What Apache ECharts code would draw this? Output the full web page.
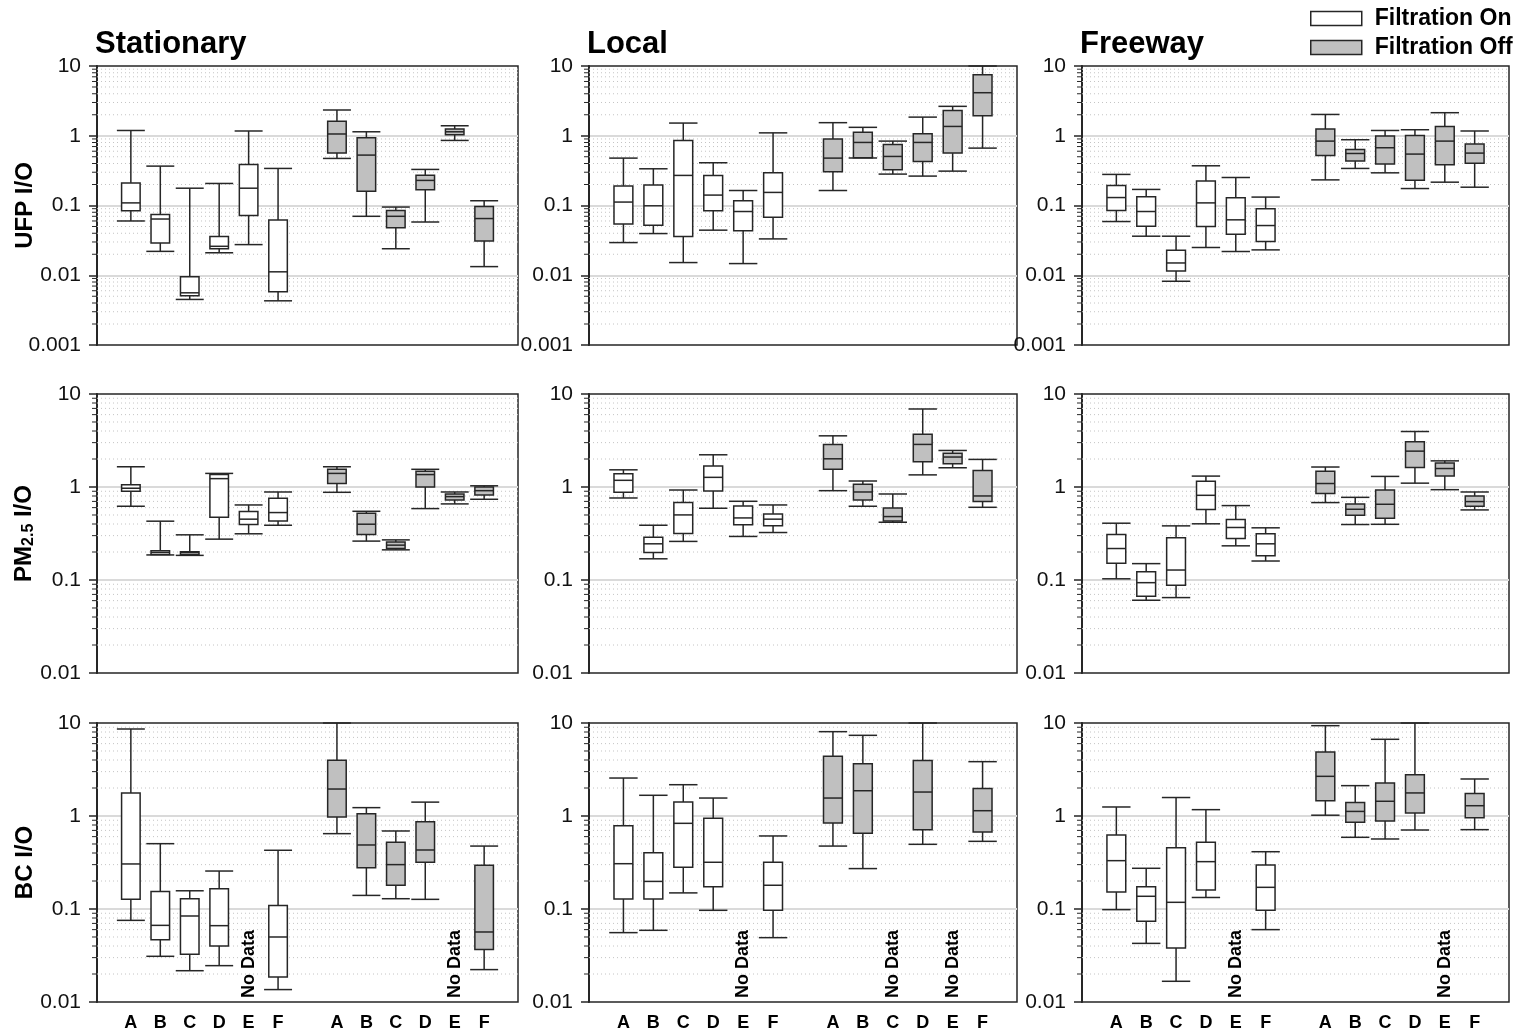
<!DOCTYPE html>
<html>
<head>
<meta charset="utf-8">
<script src="https://cdn.jsdelivr.net/npm/echarts@6/dist/echarts.min.js"></script>
<style>
  html, body { margin: 0; padding: 0; background: #fff; }
  #chart { width: 1518px; height: 1033px; }
</style>
</head>
<body>
<div id="chart"></div>
<script>
// Sites along each panel's horizontal axis (filtration on, then off)
const sites = ['A', 'B', 'C', 'D', 'E', 'F'];
const panelTitles = ['Stationary', 'Local', 'Freeway'];
const legendNames = ['Filtration On', 'Filtration Off'];
const noDataText = 'No Data';
const yTickLabels = ['0.001', '0.01', '0.1', '1', '10'];

// Each row: [min, Q1, median, Q3, max] of the I/O ratio; null = no data
// ---- UFP ----
const ufpStationaryOn = [
  [0.060, 0.084, 0.109, 0.211, 1.19],
  [0.022, 0.029, 0.064, 0.074, 0.367],
  [0.0045, 0.0051, 0.0056, 0.0095, 0.177],
  [0.021, 0.024, 0.026, 0.036, 0.207],
  [0.0275, 0.072, 0.177, 0.388, 1.17],
  [0.0043, 0.0058, 0.0112, 0.062, 0.34]
];
const ufpStationaryOff = [
  [0.473, 0.564, 1.06, 1.61, 2.34],
  [0.070, 0.160, 0.528, 0.936, 1.14],
  [0.024, 0.048, 0.070, 0.085, 0.095],
  [0.058, 0.168, 0.229, 0.272, 0.329],
  [0.857, 1.03, 1.14, 1.25, 1.39],
  [0.0133, 0.031, 0.065, 0.097, 0.117]
];
const ufpLocalOn = [
  [0.0294, 0.0545, 0.112, 0.191, 0.478],
  [0.0396, 0.0522, 0.099, 0.196, 0.336],
  [0.0152, 0.0359, 0.27, 0.857, 1.52],
  [0.0443, 0.0838, 0.141, 0.27, 0.41],
  [0.0147, 0.0433, 0.082, 0.117, 0.164],
  [0.0332, 0.068, 0.154, 0.294, 1.10]
];
const ufpLocalOff = [
  [0.164, 0.304, 0.478, 0.896, 1.54],
  [0.48, 0.483, 0.802, 1.12, 1.32],
  [0.282, 0.325, 0.505, 0.75, 0.838],
  [0.264, 0.428, 0.802, 1.07, 1.85],
  [0.311, 0.564, 1.36, 2.31, 2.64],
  [0.665, 1.94, 4.14, 7.51, 10]
];
const ufpFreewayOn = [
  [0.0589, 0.0848, 0.130, 0.194, 0.279],
  [0.0363, 0.0505, 0.082, 0.133, 0.170],
  [0.0082, 0.0115, 0.015, 0.0229, 0.0363],
  [0.025, 0.050, 0.109, 0.224, 0.371],
  [0.0219, 0.0388, 0.0623, 0.129, 0.252],
  [0.0231, 0.0304, 0.0516, 0.0896, 0.132]
];
const ufpFreewayOff = [
  [0.233, 0.522, 0.838, 1.25, 2.02],
  [0.34, 0.433, 0.557, 0.637, 0.877],
  [0.294, 0.392, 0.673, 0.989, 1.19],
  [0.175, 0.231, 0.546, 1.01, 1.22],
  [0.216, 0.384, 0.838, 1.36, 2.14],
  [0.183, 0.405, 0.564, 0.759, 1.17]
];
// ---- PM2.5 ----
const pmStationaryOn = [
  [0.621, 0.90, 0.97, 1.06, 1.65],
  [0.186, 0.188, 0.198, 0.206, 0.429],
  [0.184, 0.188, 0.197, 0.201, 0.306],
  [0.275, 0.473, 1.23, 1.36, 1.40],
  [0.314, 0.395, 0.451, 0.544, 0.641],
  [0.388, 0.432, 0.531, 0.756, 0.884]
];
const pmStationaryOff = [
  [0.877, 1.09, 1.40, 1.55, 1.65],
  [0.262, 0.308, 0.398, 0.522, 0.548],
  [0.211, 0.218, 0.237, 0.257, 0.27],
  [0.586, 1.0, 1.36, 1.48, 1.55],
  [0.658, 0.726, 0.788, 0.841, 0.884],
  [0.738, 0.82, 0.913, 1.0, 1.03]
];
const pmLocalOn = [
  [0.762, 0.877, 1.18, 1.39, 1.53],
  [0.169, 0.198, 0.245, 0.289, 0.388],
  [0.26, 0.316, 0.501, 0.68, 0.928],
  [0.591, 0.906, 1.27, 1.68, 2.22],
  [0.294, 0.392, 0.465, 0.626, 0.702],
  [0.324, 0.382, 0.451, 0.514, 0.641]
];
const pmLocalOff = [
  [0.913, 1.55, 2.01, 2.87, 3.55],
  [0.621, 0.726, 0.884, 1.07, 1.16],
  [0.418, 0.432, 0.481, 0.596, 0.841],
  [1.35, 1.87, 2.87, 3.7, 6.9],
  [1.61, 1.78, 2.10, 2.31, 2.47],
  [0.605, 0.697, 0.801, 1.50, 1.98]
];
const pmFreewayOn = [
  [0.103, 0.151, 0.218, 0.308, 0.408],
  [0.0606, 0.0668, 0.0936, 0.123, 0.15],
  [0.0647, 0.0877, 0.128, 0.284, 0.382],
  [0.402, 0.572, 0.814, 1.15, 1.31],
  [0.233, 0.279, 0.367, 0.447, 0.631],
  [0.16, 0.182, 0.245, 0.314, 0.364]
];
const pmFreewayOff = [
  [0.68, 0.849, 1.09, 1.48, 1.64],
  [0.395, 0.497, 0.576, 0.658, 0.774],
  [0.397, 0.462, 0.652, 0.928, 1.30],
  [1.10, 1.62, 2.43, 3.06, 3.95],
  [0.936, 1.31, 1.58, 1.81, 1.91],
  [0.567, 0.621, 0.697, 0.801, 0.884]
];
// ---- BC ----
const bcStationaryOn = [
  [0.0755, 0.127, 0.305, 1.77, 8.62],
  [0.031, 0.0468, 0.0667, 0.154, 0.504],
  [0.0217, 0.0326, 0.0841, 0.129, 0.157],
  [0.0246, 0.040, 0.0662, 0.165, 0.256],
  null,
  [0.0136, 0.0186, 0.050, 0.109, 0.428]
];
const bcStationaryOff = [
  [0.646, 0.975, 1.95, 3.97, 10],
  [0.14, 0.278, 0.488, 1.06, 1.23],
  [0.129, 0.18, 0.30, 0.521, 0.69],
  [0.127, 0.318, 0.431, 0.869, 1.41],
  null,
  [0.0223, 0.0368, 0.0566, 0.295, 0.475]
];
const bcLocalOn = [
  [0.0557, 0.128, 0.307, 0.787, 2.56],
  [0.059, 0.128, 0.198, 0.403, 1.67],
  [0.149, 0.281, 0.834, 1.41, 2.17],
  [0.0968, 0.174, 0.318, 0.944, 1.56],
  null,
  [0.0492, 0.0968, 0.18, 0.318, 0.61]
];
const bcLocalOff = [
  [0.475, 0.841, 1.56, 4.38, 8.07],
  [0.272, 0.651, 1.87, 3.65, 7.37],
  null,
  [0.496, 0.713, 1.81, 3.94, 10],
  null,
  [0.534, 0.673, 1.14, 1.97, 3.84]
];
const bcFreewayOn = [
  [0.0984, 0.152, 0.331, 0.625, 1.25],
  [0.0427, 0.0737, 0.137, 0.174, 0.274],
  [0.0167, 0.0381, 0.118, 0.456, 1.58],
  [0.133, 0.16, 0.323, 0.521, 1.17],
  null,
  [0.06, 0.0968, 0.171, 0.297, 0.413]
];
const bcFreewayOff = [
  [1.02, 1.46, 2.67, 4.88, 9.36],
  [0.59, 0.855, 1.12, 1.40, 2.12],
  [0.566, 0.884, 1.44, 2.26, 6.68],
  [0.707, 1.08, 1.77, 2.78, 10],
  null,
  [0.713, 0.96, 1.29, 1.75, 2.50]
];

// Layout of the 3 x 3 panel grid (pixels)
const colLeft = [97, 589, 1082];
const colWidth = [421, 428, 427];
const rowTop = [66, 394, 723];
const rowHeight = 279;
const rowYMin = [0.001, 0.01, 0.01];
const OFF_OFFSET = 7;           // "off" boxes start after a one-slot gap
const X_MIN = -1.15, X_MAX = 13.15;

const FONT = "'Liberation Sans', Arial, Helvetica, sans-serif";
const INK = '#262626';
const OFF_FILL = '#c0c0c0';

const rows = [
  { name: 'UFP I/O', data: [[ufpStationaryOn, ufpStationaryOff], [ufpLocalOn, ufpLocalOff], [ufpFreewayOn, ufpFreewayOff]] },
  { name: '{m|PM}{s|2.5}{m| I/O}', data: [[pmStationaryOn, pmStationaryOff], [pmLocalOn, pmLocalOff], [pmFreewayOn, pmFreewayOff]] },
  { name: 'BC I/O', data: [[bcStationaryOn, bcStationaryOff], [bcLocalOn, bcLocalOff], [bcFreewayOn, bcFreewayOff]] }
];

function toBoxItems(arr, offset) {
  const out = [];
  arr.forEach((d, i) => { if (d) out.push([i + offset].concat(d)); });
  return out;
}
function toNoDataItems(arr, offset, yMin) {
  const out = [];
  arr.forEach((d, i) => { if (!d) out.push([i + offset, yMin]); });
  return out;
}

function boxRenderer(fill) {
  return function (params, api) {
    const x = api.value(0);
    const lo = api.coord([x, api.value(1)]);
    const q1 = api.coord([x, api.value(2)]);
    const md = api.coord([x, api.value(3)]);
    const q3 = api.coord([x, api.value(4)]);
    const hi = api.coord([x, api.value(5)]);
    const slot = api.coord([x + 1, api.value(3)])[0] - md[0];
    const bw = slot * 0.63;
    const cw = slot * 0.95;
    const cx = md[0];
    const line = { stroke: INK, lineWidth: 1.5 };
    return {
      type: 'group',
      children: [
        { type: 'line', shape: { x1: cx, y1: hi[1], x2: cx, y2: q3[1] }, style: line },
        { type: 'line', shape: { x1: cx, y1: q1[1], x2: cx, y2: lo[1] }, style: line },
        { type: 'line', shape: { x1: cx - cw / 2, y1: hi[1], x2: cx + cw / 2, y2: hi[1] }, style: line },
        { type: 'line', shape: { x1: cx - cw / 2, y1: lo[1], x2: cx + cw / 2, y2: lo[1] }, style: line },
        { type: 'rect', shape: { x: cx - bw / 2, y: q3[1], width: bw, height: q1[1] - q3[1] },
          style: { fill: fill, stroke: INK, lineWidth: 1.5 } },
        { type: 'line', shape: { x1: cx - bw / 2, y1: md[1], x2: cx + bw / 2, y2: md[1] }, style: line }
      ]
    };
  };
}

// Dotted minor gridlines (2..9 within each decade) plus short outer ticks
function minorRenderer(params, api) {
  const cs = params.coordSys;
  const y = api.coord([0, api.value(1)])[1];
  return {
    type: 'group',
    children: [
      { type: 'line', shape: { x1: cs.x, y1: y, x2: cs.x + cs.width, y2: y },
        style: { stroke: '#c4c4c4', lineWidth: 1, lineDash: [1, 3] } },
      { type: 'line', shape: { x1: cs.x - 5, y1: y, x2: cs.x, y2: y },
        style: { stroke: INK, lineWidth: 1 } }
    ]
  };
}

function noDataRenderer(params, api) {
  const p = api.coord([api.value(0), api.value(1)]);
  return {
    type: 'text',
    x: p[0], y: p[1] - 4,
    rotation: Math.PI / 2,
    style: { text: noDataText, font: 'bold 18px ' + FONT, fill: '#000', align: 'left', verticalAlign: 'middle' }
  };
}

const grid = [], xAxis = [], yAxis = [], series = [], title = [];

rows.forEach((row, r) => {
  const yMin = rowYMin[r];
  const minorValues = [];
  for (let d = yMin; d < 10 - 1e-9; d *= 10) {
    for (let k = 2; k <= 9; k++) minorValues.push([0, +(k * d).toPrecision(3)]);
  }
  for (let c = 0; c < 3; c++) {
    const gi = grid.length;
    grid.push({
      left: colLeft[c], top: rowTop[r], width: colWidth[c], height: rowHeight,
      show: true, borderColor: INK, borderWidth: 1.5, backgroundColor: 'transparent'
    });
    const isBottom = r === 2;
    xAxis.push({
      type: 'value', gridIndex: gi, min: X_MIN, max: X_MAX,
      axisLine: { show: false, onZero: false }, axisTick: { show: false }, splitLine: { show: false },
      axisLabel: {
        show: isBottom,
        customValues: [0, 1, 2, 3, 4, 5, 7, 8, 9, 10, 11, 12],
        formatter: v => sites[v < OFF_OFFSET ? v : v - OFF_OFFSET],
        fontFamily: FONT, fontSize: 18, fontWeight: 'bold', color: '#000', margin: 12
      }
    });
    const yAx = {
      type: 'log', logBase: 10, gridIndex: gi, min: yMin, max: 10,
      axisLine: { show: true, onZero: false, lineStyle: { color: INK, width: 2 } },
      axisTick: { show: true, length: 8, lineStyle: { color: INK, width: 1.5 } },
      axisLabel: {
        fontFamily: FONT, fontSize: 21, color: '#111', margin: 16,
        formatter: v => yTickLabels[Math.round(Math.log10(v)) + 3]
      },
      splitLine: { show: true, showMinLine: false, showMaxLine: false, lineStyle: { color: '#dadada', width: 2 } }
    };
    if (c === 0) {
      yAx.name = row.name;
      yAx.nameLocation = 'middle';
      yAx.nameGap = 60;
      yAx.nameMoveOverlap = false;
      yAx.nameTextStyle = {
        fontFamily: FONT, fontSize: 24, fontWeight: 'bold', color: '#000',
        rich: {
          m: { fontFamily: FONT, fontSize: 24, fontWeight: 'bold', color: '#000' },
          s: { fontFamily: FONT, fontSize: 16, fontWeight: 'bold', color: '#000', verticalAlign: 'bottom', padding: [10, 0, 0, 0] }
        }
      };
    }
    yAxis.push(yAx);

    series.push({
      type: 'custom', name: 'minor-grid', xAxisIndex: gi, yAxisIndex: gi, z: 1, silent: true,
      clip: false, renderItem: minorRenderer, data: minorValues, encode: { x: 0, y: 1 }
    });
    const [onArr, offArr] = row.data[c];
    series.push({
      type: 'custom', name: legendNames[0], xAxisIndex: gi, yAxisIndex: gi, z: 3,
      itemStyle: { color: '#ffffff', borderColor: INK, borderWidth: 1.5 },
      renderItem: boxRenderer('#ffffff'), data: toBoxItems(onArr, 0),
      encode: { x: 0, y: [1, 2, 3, 4, 5] }
    });
    series.push({
      type: 'custom', name: legendNames[1], xAxisIndex: gi, yAxisIndex: gi, z: 3,
      itemStyle: { color: OFF_FILL, borderColor: INK, borderWidth: 1.5 },
      renderItem: boxRenderer(OFF_FILL), data: toBoxItems(offArr, OFF_OFFSET),
      encode: { x: 0, y: [1, 2, 3, 4, 5] }
    });
    const nd = toNoDataItems(onArr, 0, yMin).concat(toNoDataItems(offArr, OFF_OFFSET, yMin));
    if (nd.length) {
      series.push({
        type: 'custom', name: 'no-data', xAxisIndex: gi, yAxisIndex: gi, z: 4, silent: true,
        clip: false, renderItem: noDataRenderer, data: nd, encode: { x: 0, y: 1 }
      });
    }
  }
});

panelTitles.forEach((t, c) => {
  title.push({
    text: t, left: colLeft[c] - 2, top: 29, padding: 0,
    textStyle: { fontFamily: FONT, fontSize: 31, fontWeight: 'bold', color: '#000' }
  });
});

const chart = echarts.init(document.getElementById('chart'), null, { renderer: 'canvas' });
chart.setOption({
  animation: false,
  backgroundColor: '#ffffff',
  title: title,
  legend: {
    data: [
      { name: legendNames[0], itemStyle: { color: '#ffffff', borderColor: INK, borderWidth: 1.5 } },
      { name: legendNames[1], itemStyle: { color: OFF_FILL, borderColor: INK, borderWidth: 1.5 } }
    ],
    orient: 'vertical', left: 1310, top: 7, padding: 0,
    icon: 'rect', itemWidth: 51, itemHeight: 14, itemGap: 6,
    selectedMode: false,
    textStyle: { fontFamily: FONT, fontSize: 23, fontWeight: 'bold', color: '#000', padding: [0, 0, 0, 8] }
  },
  grid: grid,
  xAxis: xAxis,
  yAxis: yAxis,
  series: series
});
</script>
</body>
</html>
